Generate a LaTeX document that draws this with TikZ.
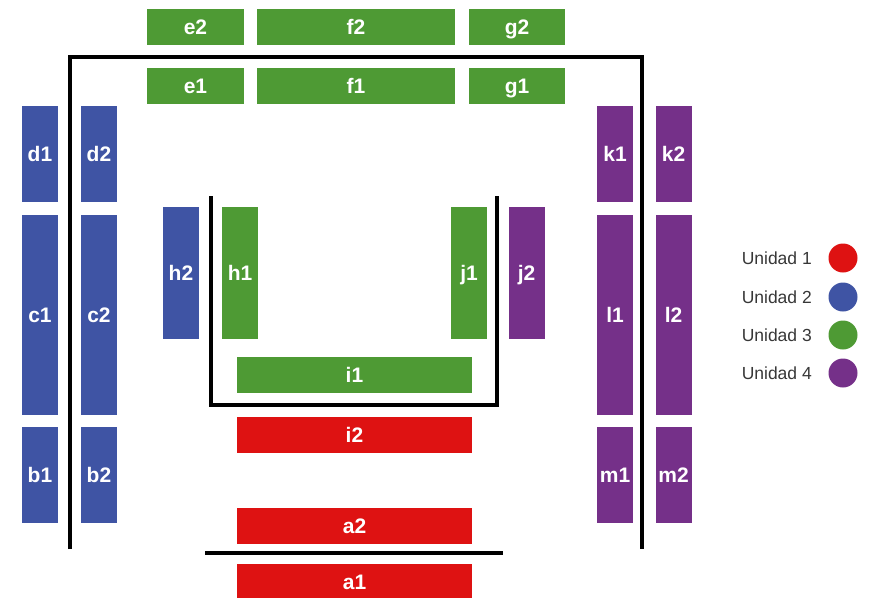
\documentclass[tikz,border=0pt]{standalone}
\usepackage{fontspec}
\setmainfont{Liberation Sans}
\definecolor{uRed}{RGB}{222,18,18}
\definecolor{uBlue}{RGB}{63,84,164}
\definecolor{uGreen}{RGB}{78,154,52}
\definecolor{uPurple}{RGB}{117,48,137}
\definecolor{legendText}{RGB}{55,55,55}
\tikzset{
  seat/.style={rectangle, inner sep=0pt, outer sep=0pt, draw=none,
    text=white, font=\fontsize{21}{21}\selectfont\bfseries,
    text height=15pt, text depth=0pt},
  hseat/.style={seat, minimum height=36pt},
  vseat/.style={seat, minimum width=36pt},
  wall/.style={line width=3.6pt, black},
  legendlabel/.style={anchor=east, inner sep=0pt, text=legendText,
    font=\fontsize{17.5}{17.5}\selectfont, text height=12.5pt, text depth=0pt},
  legenddot/.style={circle, inner sep=0pt, minimum size=29pt}
}
\begin{document}
\begin{tikzpicture}[x=1pt, y=-1pt]
\useasboundingbox (0,0) rectangle (872,597);
\clip (0,0) rectangle (872,597);

% top rows (outside and inside the main frame)
\node[hseat, fill=uGreen, minimum width=97pt]  (e2) at (195.5,27) {e2};
\node[hseat, fill=uGreen, minimum width=198pt] (f2) at (356,27)   {f2};
\node[hseat, fill=uGreen, minimum width=96pt]  (g2) at (517,27)   {g2};
\node[hseat, fill=uGreen, minimum width=97pt]  (e1) at (195.5,86) {e1};
\node[hseat, fill=uGreen, minimum width=198pt] (f1) at (356,86)   {f1};
\node[hseat, fill=uGreen, minimum width=96pt]  (g1) at (517,86)   {g1};

% left side columns
\node[vseat, fill=uBlue, minimum height=96pt]  (d1) at (40,154)  {d1};
\node[vseat, fill=uBlue, minimum height=96pt]  (d2) at (99,154)  {d2};
\node[vseat, fill=uBlue, minimum height=200pt] (c1) at (40,315)  {c1};
\node[vseat, fill=uBlue, minimum height=200pt] (c2) at (99,315)  {c2};
\node[vseat, fill=uBlue, minimum height=96pt]  (b1) at (40,475)  {b1};
\node[vseat, fill=uBlue, minimum height=96pt]  (b2) at (99,475)  {b2};

% right side columns
\node[vseat, fill=uPurple, minimum height=96pt]  (k1) at (615,154)   {k1};
\node[vseat, fill=uPurple, minimum height=96pt]  (k2) at (673.5,154) {k2};
\node[vseat, fill=uPurple, minimum height=200pt] (l1) at (615,315)   {l1};
\node[vseat, fill=uPurple, minimum height=200pt] (l2) at (673.5,315) {l2};
\node[vseat, fill=uPurple, minimum height=96pt]  (m1) at (615,475)   {m1};
\node[vseat, fill=uPurple, minimum height=96pt]  (m2) at (673.5,475) {m2};

% inner block
\node[vseat, fill=uBlue,   minimum height=132pt] (h2) at (181,273)   {h2};
\node[vseat, fill=uGreen,  minimum height=132pt] (h1) at (240,273)   {h1};
\node[vseat, fill=uGreen,  minimum height=132pt] (j1) at (469,273)   {j1};
\node[vseat, fill=uPurple, minimum height=132pt] (j2) at (526.5,273) {j2};
\node[hseat, fill=uGreen, minimum width=235pt] (i1) at (354.5,374.5) {i1};

% front rows
\node[hseat, fill=uRed, minimum width=235pt] (i2) at (354.5,435) {i2};
\node[hseat, fill=uRed, minimum width=235pt] (a2) at (354.5,526) {a2};
\node[hseat, fill=uRed, minimum width=235pt] (a1) at (354.5,582) {a1};

% walls
\coordinate (fbl) at (70,549);
\coordinate (ftl) at (70,57);
\coordinate (ftr) at (642,57);
\coordinate (fbr) at (642,549);
\draw[wall] (fbl) -- (ftl) -- (ftr) -- (fbr);
\coordinate (utl) at (211,196);
\coordinate (ubl) at (211,405);
\coordinate (ubr) at (497,405);
\coordinate (utr) at (497,196);
\draw[wall] (utl) -- (ubl) -- (ubr) -- (utr);
\coordinate (rl) at (205,553);
\coordinate (rr) at (503,553);
\draw[wall] (rl) -- (rr);

% legend
\node[legenddot, fill=uRed]    (u1) at (843,258) {};
\node[legenddot, fill=uBlue]   (u2) at (843,297) {};
\node[legenddot, fill=uGreen]  (u3) at (843,335) {};
\node[legenddot, fill=uPurple] (u4) at (843,373) {};
\node[legendlabel] (t1) at (812,258) {Unidad 1};
\node[legendlabel] (t2) at (812,297) {Unidad 2};
\node[legendlabel] (t3) at (812,335) {Unidad 3};
\node[legendlabel] (t4) at (812,373) {Unidad 4};
\end{tikzpicture}
\end{document}
